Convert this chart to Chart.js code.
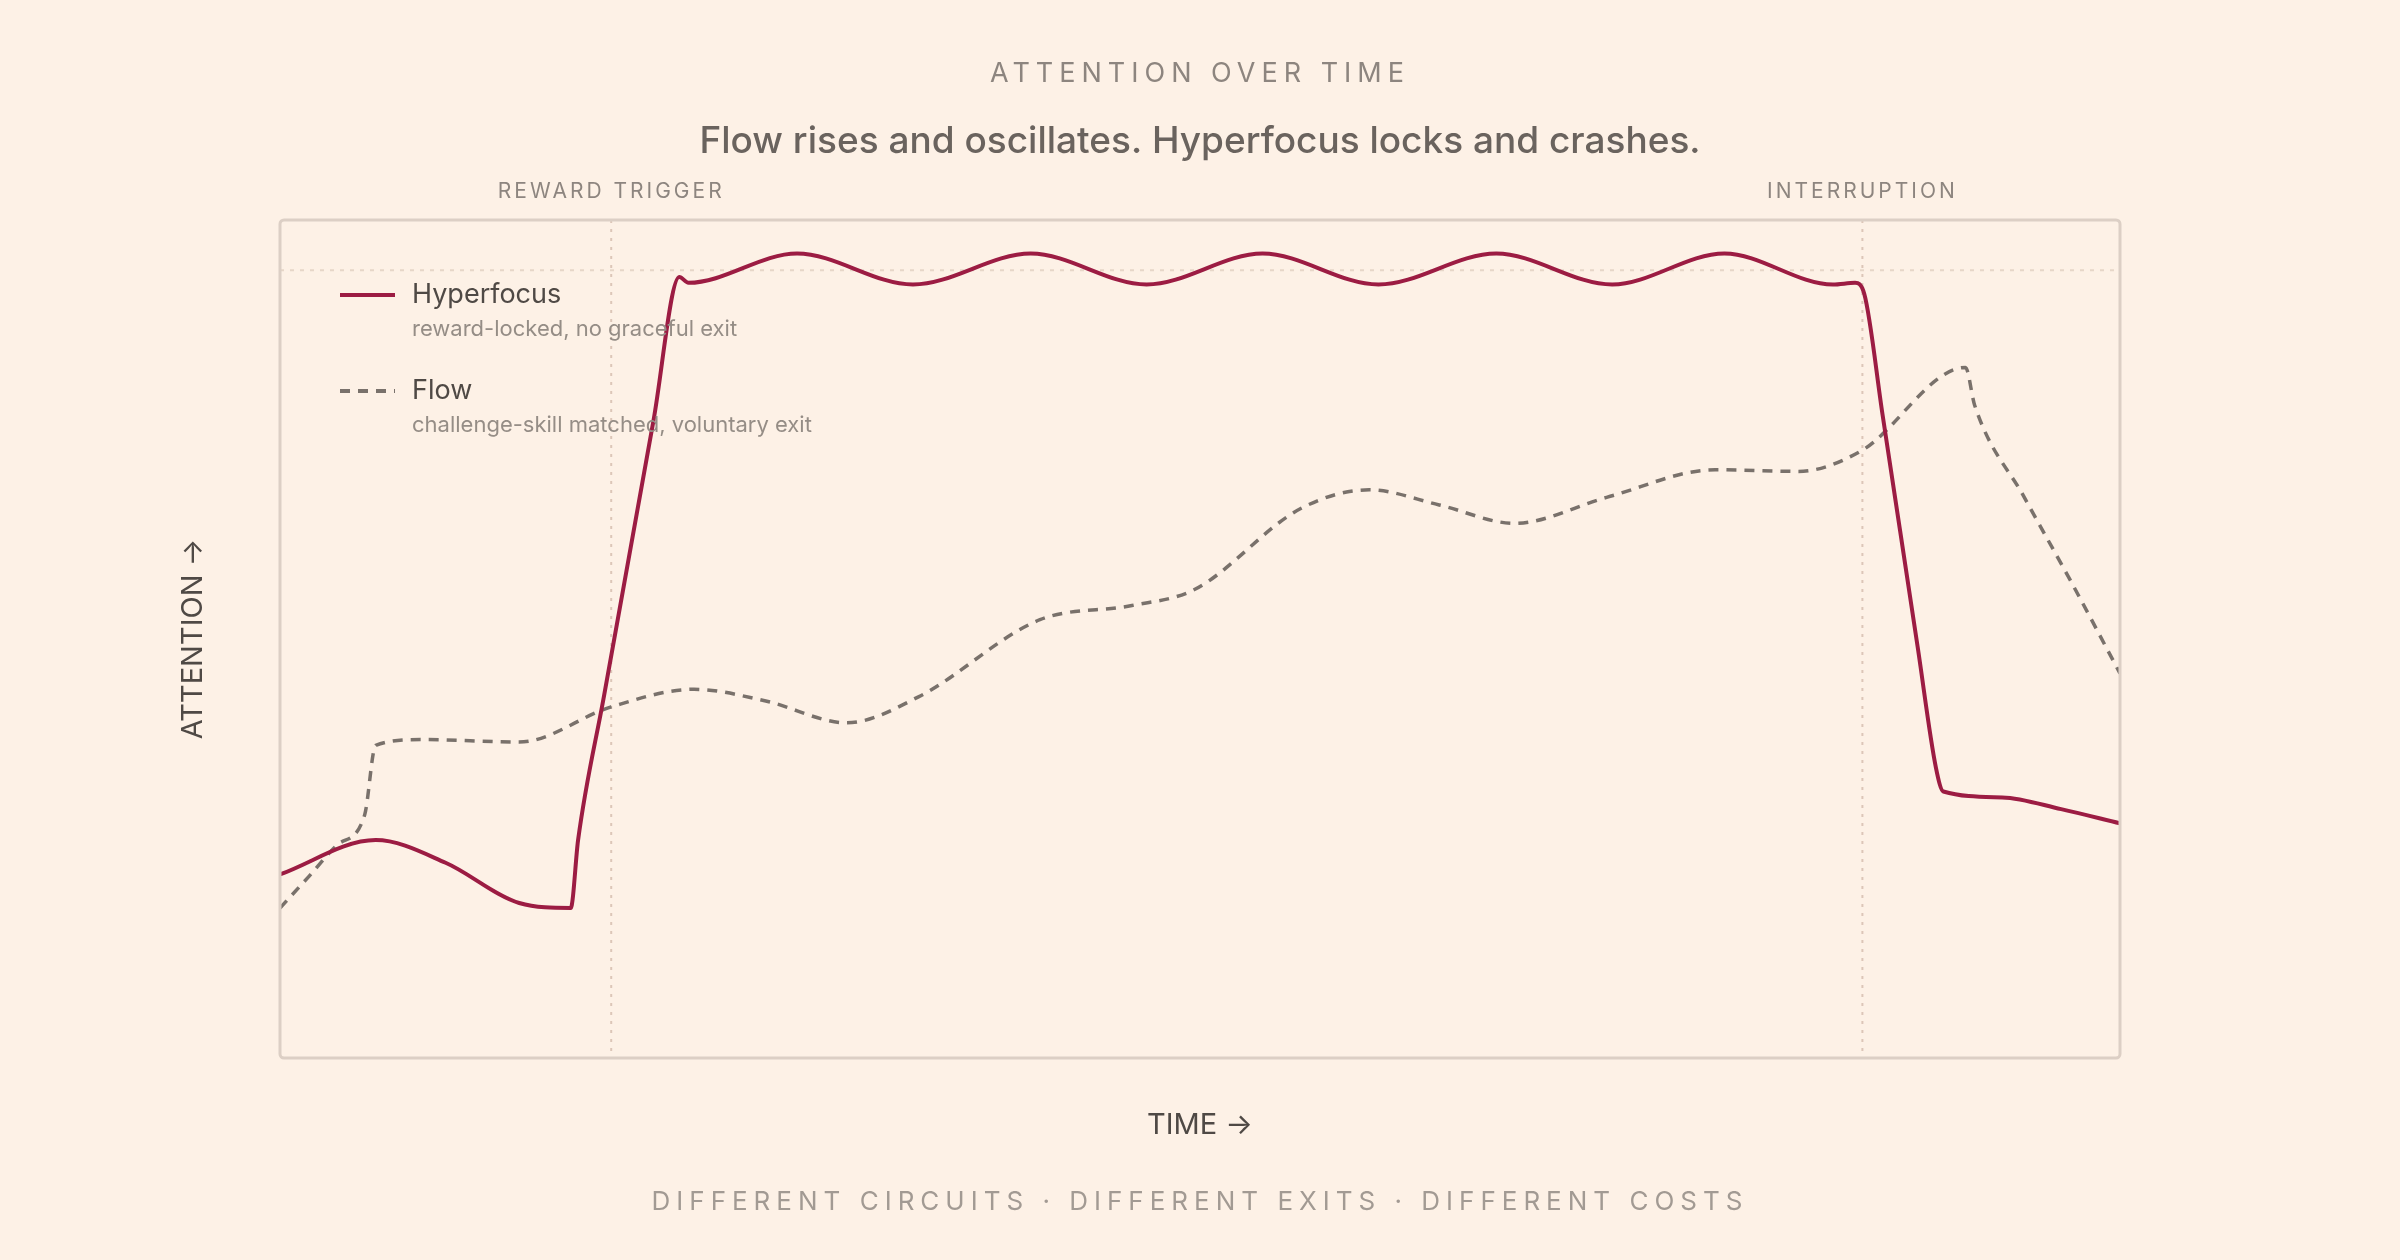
<!DOCTYPE html>
<html>
<head>
<meta charset="utf-8">
<script src="https://cdn.jsdelivr.net/npm/chart.js@4.4.1/dist/chart.umd.min.js"></script>
<style>
  html, body { margin: 0; padding: 0; background: #fdf1e6; }
  #wrap { width: 2400px; height: 1260px; position: relative; }
</style>
</head>
<body>
<div id="wrap"><canvas id="chart" width="2400" height="1260"></canvas></div>
<script>
// time (0-100) and attention (0-100)
const hyperX = [0, 5.2, 9, 13, 15.8, 16.2, 17.6, 20.3, 21.7, 22.2, 28.1, 34.4, 40.8, 47.1, 53.4, 59.7, 66.1, 72.4, 78.5, 84.4, 85.6, 86.1, 87.1, 89, 90, 90.4, 93.6, 96.8, 100];
const hyperY = [21.9, 26, 23.3, 18.5, 17.9, 26, 43.1, 76.1, 93.2, 92.5, 96, 92.3, 96, 92.3, 96, 92.3, 96, 92.3, 96, 92.3, 92.5, 91.2, 76.7, 49.1, 34.6, 31.8, 31.1, 29.7, 28];
const flowX = [0, 1.5, 3.1, 4.6, 5.2, 7.7, 13, 18, 22.5, 26.4, 30.8, 34.7, 41.3, 46.3, 49.7, 55.5, 59.2, 63, 67.1, 72.1, 78, 82.5, 85.9, 91.6, 92.1, 94.8, 97.4, 100];
const flowY = [17.9, 21.5, 25.4, 29, 37.3, 38, 37.7, 41.9, 44, 42.6, 40, 43.1, 52.3, 54, 55.9, 65.6, 67.8, 66, 63.8, 66.9, 70.2, 70, 72.4, 82.4, 77.9, 66.9, 56.6, 45.9];
const markers = [{ x: 18, label: "REWARD TRIGGER" }, { x: 86, label: "INTERRUPTION" }];
const ceilingY = 94;
const legendItems = [
  { name: "Hyperfocus", note: "reward-locked, no graceful exit", color: "#9c1c43", dash: [] },
  { name: "Flow", note: "challenge-skill matched, voluntary exit", color: "#79716b", dash: [10, 8] },
];

const toPoints = (xs, ys) => xs.map((x, i) => ({ x, y: ys[i] }));
const FONT = "Inter, 'Noto Sans', sans-serif";

const decor = {
  id: "decor",
  beforeDraw(chart) {
    const { ctx, chartArea: a, scales } = chart;
    ctx.save();
    ctx.fillStyle = "#fdf1e6";
    ctx.fillRect(0, 0, chart.width, chart.height);
    // ceiling dotted line
    ctx.strokeStyle = "#e6d6c8";
    ctx.lineWidth = 2;
    ctx.setLineDash([4, 6]);
    const cy = scales.y.getPixelForValue(ceilingY);
    ctx.beginPath(); ctx.moveTo(a.left, cy); ctx.lineTo(a.right, cy); ctx.stroke();
    // marker lines
    ctx.strokeStyle = "#dcc6b8";
    ctx.setLineDash([3, 6]);
    markers.forEach((m) => {
      const px = scales.x.getPixelForValue(m.x);
      ctx.beginPath(); ctx.moveTo(px, a.top); ctx.lineTo(px, a.bottom); ctx.stroke();
    });
    ctx.restore();
  },
  afterDraw(chart) {
    const { ctx, chartArea: a, scales } = chart;
    ctx.save();
    // frame
    ctx.strokeStyle = "#dccfc5";
    ctx.lineWidth = 3;
    ctx.beginPath(); ctx.roundRect(a.left, a.top, a.right - a.left, a.bottom - a.top, 4); ctx.stroke();

    ctx.textAlign = "center";
    ctx.textBaseline = "middle";
    ctx.fillStyle = "#8d857f";
    ctx.font = `27px ${FONT}`;
    ctx.letterSpacing = "6px";
    ctx.fillText("ATTENTION OVER TIME", 1200, 74);
    ctx.fillStyle = "#6a635e";
    ctx.letterSpacing = "0px";
    ctx.font = `500 37px ${FONT}`;
    ctx.fillText("Flow rises and oscillates. Hyperfocus locks and crashes.", 1200, 142);

    ctx.fillStyle = "#8d857f";
    ctx.font = `21px ${FONT}`;
    ctx.letterSpacing = "3px";
    markers.forEach((m) => ctx.fillText(m.label, scales.x.getPixelForValue(m.x), 192));

    ctx.font = `26px ${FONT}`;
    ctx.letterSpacing = "6px";
    ctx.fillStyle = "#a29a93";
    ctx.fillText("DIFFERENT CIRCUITS · DIFFERENT EXITS · DIFFERENT COSTS", 1200, 1202);

    ctx.letterSpacing = "0px";
    ctx.fillStyle = "#4f4945";
    ctx.font = `29px ${FONT}`;
    ctx.fillText("TIME →", 1200, 1125);
    ctx.save();
    ctx.translate(193, (a.top + a.bottom) / 2);
    ctx.rotate(-Math.PI / 2);
    ctx.fillText("ATTENTION →", 0, 0);
    ctx.restore();

    // legend
    ctx.textAlign = "left";
    legendItems.forEach((it, i) => {
      const y = a.top + 75 + i * 96;
      ctx.strokeStyle = it.color;
      ctx.lineWidth = 4;
      ctx.setLineDash(it.dash);
      ctx.beginPath(); ctx.moveTo(a.left + 60, y); ctx.lineTo(a.left + 115, y); ctx.stroke();
      ctx.setLineDash([]);
      ctx.fillStyle = "#4f4945";
      ctx.font = `27px ${FONT}`;
      ctx.fillText(it.name, a.left + 132, y);
      ctx.fillStyle = "#958d86";
      ctx.font = `22px ${FONT}`;
      ctx.fillText(it.note, a.left + 132, y + 34);
    });
    ctx.restore();
  },
};

new Chart(document.getElementById("chart"), {
  type: "line",
  data: {
    datasets: [
      { label: "Hyperfocus", data: toPoints(hyperX, hyperY), borderColor: "#9c1c43", borderWidth: 4, cubicInterpolationMode: "monotone", pointRadius: 0 },
      { label: "Flow", data: toPoints(flowX, flowY), borderColor: "#79716b", borderWidth: 3.5, borderDash: [10, 8], cubicInterpolationMode: "monotone", pointRadius: 0 },
    ],
  },
  options: {
    responsive: false,
    animation: false,
    devicePixelRatio: 1,
    layout: { padding: { left: 280, right: 280, top: 220, bottom: 202 } },
    plugins: { legend: { display: false }, tooltip: { enabled: false } },
    scales: {
      x: { type: "linear", min: 0, max: 100, display: false },
      y: { min: 0, max: 100, display: false },
    },
  },
  plugins: [decor],
});
</script>
</body>
</html>
